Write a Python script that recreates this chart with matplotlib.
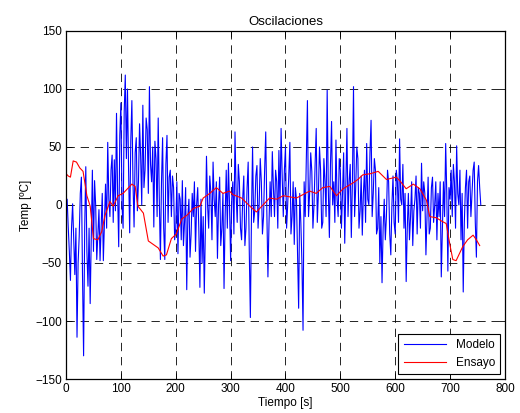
import numpy as np
import matplotlib
matplotlib.use('Agg')
import matplotlib.pyplot as plt

plt.rcParams['font.family'] = ['Liberation Sans', 'DejaVu Sans']

# Modelo: sampled every 2 s (rows of 40 s)
modelo_t = np.arange(0, 758, 2)
modelo = [-8, 5, -19, -40, -65, -20, 1, -30, -60, -20, -114, -50, -27, 10, 24, -60, -130, -20, 33, -40,
          -70, -20, -85, -30, 30, -40, 21, 0, -47, -25, -4, -48, -19, 10, -48, -15, 18, -20, 54, 5,
          -10, 30, 43, -15, 39, -5, 79, 10, -36, 60, 88, 0, -20, 80, 112, 40, 100, 30, -24, 55,
          90, 20, -19, 45, 58, -5, 20, 70, 42, 0, 86, 15, 30, 75, 65, 10, 102, 35, 20, 50,
          -19, 55, 40, -10, 75, 5, -47, 20, 58, -20, -47, 35, 60, -15, 24, 30, -10, 25, 15, -30,
          -20, 20, -42, 10, 5, -30, 21, -35, -15, 15, -73, -10, 5, -45, -25, 10, -10, 20, -40, 0,
          15, -20, -71, 5, -50, -10, -76, -20, 42, 0, -20, 25, 10, -30, 37, 5, -10, 20, -46, 0,
          24, -35, -20, 10, -72, -10, 30, -20, 36, 0, -48, 5, 20, -25, 63, 10, -15, 35, 20, -20,
          -30, 5, 25, -35, -20, 15, 37, -40, -97, -10, 50, -15, -5, 25, 34, -20, 0, 40, 20, -25,
          -10, 30, 63, -5, -62, -15, 20, -10, 46, 15, -10, 30, 20, -20, 47, 0, 66, 25, -10, 30,
          50, -20, 0, 25, 54, -25, -10, 20, -34, 15, 5, -40, -89, 10, -15, -50, -108, 20, -10, 40,
          90, -10, 10, 45, 29, -20, 0, 35, 66, -15, 10, 50, 30, -20, -15, 40, 20, -10, 99, 15,
          -28, 35, 72, 0, 20, -15, 56, 5, -10, 40, 30, -20, 10, 45, -33, 15, 66, -10, 20, 35,
          -28, 20, 102, -10, 15, 50, 40, -20, -5, 25, -26, 10, 30, -15, 53, 5, 0, 45, 73, -10,
          10, 40, 30, -25, -20, 15, -50, -10, -67, -20, 5, -30, -10, 30, 20, -25, -43, 0, 25, -15,
          -25, 30, 20, -15, 57, 5, 0, 35, -20, 10, -66, -20, 10, -30, -10, 20, -35, -5, 5, 25,
          -25, 15, 10, -20, 36, -5, 20, 10, -43, -10, 24, -25, -20, 15, 24, -15, 0, 20, -30, 10,
          -10, 20, -62, -20, 20, -10, 53, 10, -57, 15, 5, 30, -10, 35, 20, -20, 51, 10, 0, 30,
          -30, 10, -75, -15, 15, 30, -20, 20, 25, -10, 10, 30, 37, -15, -45, 20, 34, 15, 0]

# Ensayo
ensayo_t = [0, 4, 8, 13, 19, 25, 31, 38, 44, 50, 58, 65, 71, 80, 86, 95, 104, 110,
            120, 126, 131, 141, 150, 159, 168, 177, 183, 192, 201, 211, 220, 232,
            244, 250, 262, 274, 286, 298, 304, 320, 335, 347, 359, 371, 384, 396,
            408, 420, 432, 444, 456, 468, 481, 493, 505, 523, 532, 541, 555, 569,
            584, 602, 610, 620, 633, 645, 657, 663, 675, 685, 693, 700, 705, 711,
            717, 723, 732, 742, 748, 754]
ensayo = [27, 25, 24, 38, 37, 32, 29, 8, -1, -29, -30, -23, -9, 3, -1, 8, 10, 13,
          18, 16, -1, -7, -31, -34, -37, -44, -43, -29, -25, -12, -9, -3,
          -1, 6, 10, 15, 10, 12, 9, 6, -1, -6, 0, 6, 5, 8,
          7, 6, 9, 12, 10, 15, 16, 8, 14, 19, 22, 26, 27, 29,
          22, 24, 20, 14, 18, 14, 4, -10, -11, -14, -16, -35, -47, -48,
          -42, -36, -30, -26, -30, -35]

fig = plt.figure(figsize=(5.2, 4.13), dpi=100)
ax = fig.add_axes([0.127, 0.0823, 0.844, 0.8427])

ax.plot(modelo_t, modelo, color=(0, 0, 1), lw=0.8, label='Modelo')
ax.plot(ensayo_t, ensayo, color=(1, 0, 0), lw=0.8, label='Ensayo')

ax.set_xlim(0, 800)
ax.set_ylim(-150, 150)
ax.set_xticks(np.arange(0, 801, 100))
ax.set_yticks(np.arange(-150, 151, 50))
ax.grid(True, color='black', linestyle=(0, (10, 7)), linewidth=0.6)
ax.tick_params(direction='in', top=True, right=True, length=4, width=0.6,
               labelsize=8.5, pad=3)
for s in ax.spines.values():
    s.set_linewidth(0.9)

ax.set_title('Oscilaciones', fontsize=9.5, pad=4)
ax.set_xlabel('Tiempo [s]', fontsize=8.5, labelpad=1)
ax.set_ylabel('Temp [ºC]', fontsize=8.5, labelpad=2)

leg = ax.legend(loc='lower right', fontsize=8.5, fancybox=False, framealpha=1,
                edgecolor='black', borderaxespad=0.4, handlelength=3.6,
                borderpad=0.45, labelspacing=0.5)
leg.get_frame().set_linewidth(0.8)

fig.savefig('out.png', dpi=100)
